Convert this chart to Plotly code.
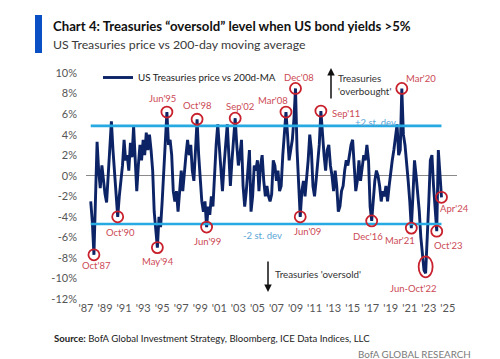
import plotly.graph_objects as go
import pandas as pd

# ---------------- data (bimonthly, % deviation of price vs 200d MA) ----------------
v_1987_1989 = [-2.5, -4.5, -7.7,
               -1.0, 3.3, 0.5, -1.2, 1.0, -0.8,
               -1.8, -2.6, 0.5, 3.0, 5.3, 2.5]
v_1990s = [0.5, -1.5, -4.0, -2.0, -0.5, 1.0,
           3.5, 1.5, 2.0, 0.5, 3.2, 1.8,
           4.8, 2.0, -1.5, 1.0, 3.0, 1.5,
           3.5, 2.0, 4.2, 2.5, 4.0, 2.5,
           0.5, -3.5, -5.0, -7.0, -4.0, -5.0,
           -2.5, 0.5, 3.0, 6.2, 3.0, 3.5,
           2.0, -1.5, -2.5, -1.5, -3.5, -1.0,
           0.5, -1.5, 0.5, 2.0, 3.5, 2.0,
           3.0, 0.5, -0.5, 2.0, 5.5, 2.0,
           -0.5, -2.5, -3.5, -2.5, -5.0, -3.0]
v_2000s = [-3.8, -2.0, -3.0, 0.5, 3.0, 5.0,
           3.0, 0.5, -1.5, 1.0, 3.5, 5.0,
           2.0, -1.0, 1.5, 3.5, 5.6, 3.0,
           1.0, 2.0, 3.5, -1.0, -3.0, -1.5,
           1.0, 2.5, -3.5, -2.0, 1.0, 0.5,
           1.5, -1.5, 1.0, 2.0, -0.5, -2.0,
           -1.0, -2.0, -2.5, -1.8, 1.5, 1.0,
           -0.5, 0.5, -1.5, -1.0, 2.0, 4.0,
           6.2, 4.0, 1.5, 2.5, 3.5, 5.5,
           8.5, 2.5, -1.5, -4.0, -1.5, -0.5]
v_2010s = [-2.0, -0.5, 1.5, 4.0, 2.5, -1.0,
           -2.0, -0.5, 1.5, 3.0, 6.3, 3.5,
           2.0, 0.5, 2.5, 3.0, 1.0, 0.0,
           -1.5, 0.5, -1.0, -3.5, -3.0, -1.5,
           -1.0, 0.5, 1.5, 1.0, 2.0, 3.0,
           3.5, 1.5, -1.5, -0.5, 1.5, -0.5,
           1.0, 2.0, 1.5, 3.0, 1.5, -3.0,
           -4.4, -2.0, -0.5, 0.5, 0.0, -1.0,
           -2.5, -1.5, -2.0, -1.0, -2.5, -1.0,
           0.5, 1.5, 2.5, 4.0, 5.0, 2.0]
v_2020s = [2.5, 8.5, 4.0, 3.0, 1.5, -0.5,
           -2.5, -5.1, -2.0, 1.5, 0.0, -1.5,
           -3.5, -6.0, -8.0, -9.2, -9.5, -6.5,
           -2.5, 1.5, 2.0, -1.0, -3.5, -5.4,
           2.5, 0.5, -2.1]
values = v_1987_1989 + v_1990s + v_2000s + v_2010s + v_2020s
dates = pd.date_range("1987-07-01", periods=len(values), freq="2MS")

series_name = "US Treasuries price vs 200d-MA"
sd_upper = 4.85
sd_lower = -4.7

hl_labels = ["Oct'87", "Oct'90", "May'94", "Jun'95", "Oct'98", "Jun'99", "Sep'02",
             "Mar'08", "Dec'08", "Jun'09", "Sep'11", "Dec'16", "Mar'20", "Mar'21",
             "Jun-Oct'22", "Oct'23", "Apr'24"]
hl_dates = ["1987-11-01", "1990-05-01", "1994-07-01", "1995-07-01", "1998-09-01",
            "1999-09-01", "2002-09-01", "2008-01-01", "2009-01-01", "2009-07-01",
            "2011-09-01", "2017-01-01", "2020-03-01", "2021-03-01", "2022-09-01",
            "2023-11-01", "2024-05-01"]

x_tick_years = list(range(1987, 2026, 2))
y_ticks = list(range(-12, 11, 2))

# ---------------- styling / layout helpers ----------------
W, H = 500, 359
L, R, T, B = 78, 51, 64, 67
pw, ph = W - L - R, H - T - B
def xp(px): return (px - L) / pw
def yp(py): return (H - B - py) / ph

FONT = "Lato"
NAVY = "#0c2466"
RED_TXT = "#cc4a55"
RED_CIR = "#c8202c"
CYAN = "#27a9e1"
CYAN_TXT = "#5aa5d6"
GREY = "#555555"

# label offsets (px, right / down) per highlight
label_offsets = [(3, 11), (3, 16), (1, 14), (-4, -14), (0, -14), (1, 14), (5, -12),
                 (-13, -12), (3, -11), (7, 15), (25, 2), (-4, 16), (19, -10), (-11, 12),
                 (-13, 15), (11, 14), (13, 11)]

s = pd.Series(values, index=dates)
hl_vals = [float(s.loc[pd.Timestamp(d)]) for d in hl_dates]

fig = go.Figure()

fig.add_trace(go.Scatter(x=dates, y=values, mode="lines", name=series_name,
                         line=dict(color=NAVY, width=2.9), showlegend=True))
for lvl in (sd_upper, sd_lower):
    fig.add_trace(go.Scatter(x=[dates[0], dates[-1]], y=[lvl, lvl], mode="lines",
                             line=dict(color=CYAN, width=2.6), showlegend=False,
                             hoverinfo="skip"))

circ_x = [pd.Timestamp(d) for d, l in zip(hl_dates, hl_labels) if l != "Jun-Oct'22"]
circ_y = [v for v, l in zip(hl_vals, hl_labels) if l != "Jun-Oct'22"]
fig.add_trace(go.Scatter(x=circ_x, y=circ_y, mode="markers", showlegend=False,
                         marker=dict(symbol="circle-open", size=11, color=RED_CIR,
                                     line=dict(width=1.8, color=RED_CIR))))

annotations = []
shapes = []
for lab, d, v, (dx, dy) in zip(hl_labels, hl_dates, hl_vals, label_offsets):
    annotations.append(dict(x=pd.Timestamp(d), y=v, xref="x", yref="y", text=lab,
                            showarrow=False, xshift=dx, yshift=-dy,
                            font=dict(family=FONT, size=9.5, color=RED_TXT)))
    if lab == "Jun-Oct'22":
        shapes.append(dict(type="circle", xref="x", yref="y",
                           xsizemode="pixel", ysizemode="pixel",
                           xanchor=pd.Timestamp(d), yanchor=v,
                           x0=-7, x1=7, y0=-4, y1=17,
                           line=dict(color=RED_CIR, width=1.8)))

# title bar
shapes.append(dict(type="rect", xref="paper", yref="paper",
                   x0=xp(27), x1=xp(34), y0=yp(45), y1=yp(7),
                   fillcolor="#0b4fc4", line=dict(width=0)))

def txt(px, py, text, size, color, anchor="left", bold=False, valign="middle"):
    annotations.append(dict(x=xp(px), y=yp(py), xref="paper", yref="paper",
                            text=f"<b>{text}</b>" if bold else text, showarrow=False,
                            xanchor=anchor, yanchor=valign, align=anchor,
                            font=dict(family=FONT, size=size, color=color)))

txt(43, 18, "Chart 4: Treasuries “oversold” level when US bond yields >5%", 13.2, "#111111", bold=True)
txt(43, 36, "US Treasuries price vs 200-day moving average", 12.3, "#3a3a3a")
txt(367, 114, "+2 st. dev", 9.5, CYAN_TXT, anchor="center")
txt(254, 227, "-2 st. dev", 9.5, CYAN_TXT, anchor="center")
txt(328, 77, "Treasuries<br>'overbought'", 9.8, "#333333")
txt(265, 266, "Treasuries 'oversold'", 9.8, "#333333")
txt(44, 330, "<b>Source:</b> BofA Global Investment Strategy, Bloomberg, ICE Data Indices, LLC", 9.6, "#222222")
txt(465, 346, "BofA GLOBAL RESEARCH", 9.8, "#7a7a7a", anchor="right")

# arrows
annotations.append(dict(x=xp(323), y=yp(60), xref="paper", yref="paper", text="",
                        showarrow=True, ax=0, ay=32, arrowhead=2, arrowsize=1,
                        arrowwidth=1.5, arrowcolor="#111111"))
annotations.append(dict(x=xp(260), y=yp(284), xref="paper", yref="paper", text="",
                        showarrow=True, ax=0, ay=-32, arrowhead=2, arrowsize=1,
                        arrowwidth=1.5, arrowcolor="#111111"))

fig.update_layout(
    width=W, height=H, margin=dict(l=L, r=R, t=T, b=B),
    paper_bgcolor="white", plot_bgcolor="white",
    font=dict(family=FONT, size=11, color=GREY),
    showlegend=True,
    legend=dict(x=xp(90), y=yp(55), xanchor="left", yanchor="top",
                bgcolor="rgba(0,0,0,0)", font=dict(family=FONT, size=9.8, color="#222222")),
    annotations=annotations, shapes=shapes,
)
fig.update_xaxes(range=[pd.Timestamp("1987-01-01"), pd.Timestamp("2025-12-17")],
                 tickvals=[pd.Timestamp(f"{y}-01-01") for y in x_tick_years],
                 ticktext=[f"'{str(y)[2:]}" for y in x_tick_years],
                 showgrid=False, zeroline=False, showline=False, ticks="",
                 tickfont=dict(family=FONT, size=11, color=GREY))
fig.update_yaxes(range=[-12.1, 10.1], tickvals=y_ticks,
                 ticktext=[f"{v}%" for v in y_ticks],
                 showgrid=False, zeroline=True, zerolinecolor="#8a8a8a", zerolinewidth=1,
                 showline=False, ticks="", ticklabelstandoff=8,
                 tickfont=dict(family=FONT, size=11, color=GREY))

fig.write_html("out.html")
